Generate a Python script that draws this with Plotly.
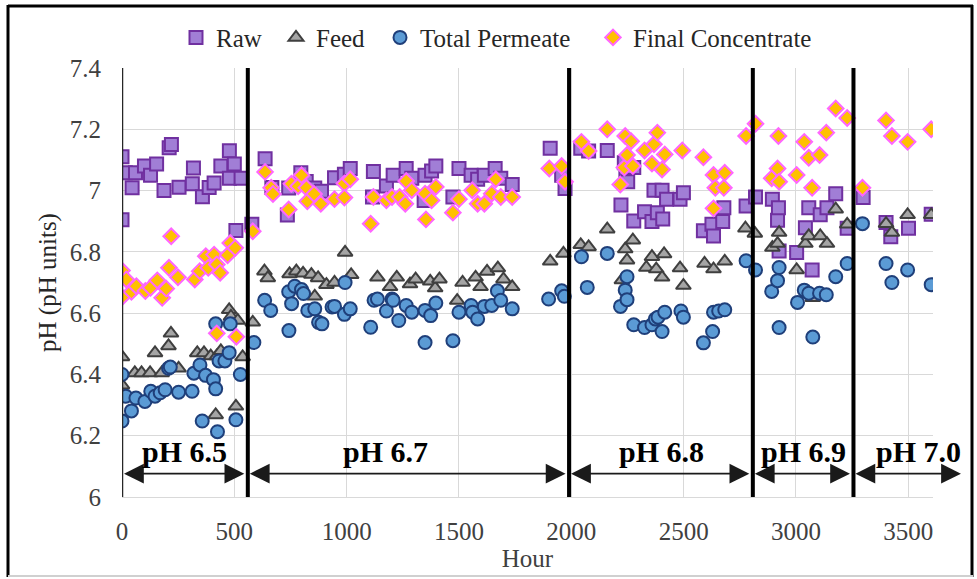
import plotly.graph_objects as go

# ---------------- data ----------------
raw_hours = [0, 0, 15, 45, 60, 100, 127, 154, 187, 210, 220, 254, 313, 318, 358, 388, 410, 440, 478, 478,
             500, 507, 530, 578, 637, 667, 736, 742, 796, 820, 858, 888, 946, 990, 1016, 1115, 1119, 1177,
             1207, 1265, 1290, 1345, 1349, 1378, 1397, 1473, 1500, 1554, 1583, 1613, 1661, 1686, 1737,
             1906, 1957, 1972, 2042, 2077, 2160, 2221, 2236, 2243, 2251, 2278, 2278, 2326, 2359, 2368,
             2383, 2404, 2407, 2424, 2484, 2499, 2588, 2626, 2633, 2674, 2679, 2778, 2820, 2895, 2918,
             2922, 2925, 3003, 3042, 3057, 3072, 3108, 3138, 3177, 3228, 3299, 3401, 3422, 3501, 3602]
raw_ph = [7.11, 6.905, 7.058, 7.009, 7.058, 7.08, 7.05, 7.087, 7.0, 7.14, 7.15, 7.011, 7.022, 7.074, 6.98,
          7.01, 7.025, 7.08, 7.13, 7.04, 7.087, 6.87, 7.04, 6.89, 7.104, 7.01, 6.92, 7.008, 7.058, 7.03,
          7.008, 6.998, 7.042, 7.053, 7.072, 6.979, 7.062, 7.015, 7.05, 7.072, 7.04, 6.968, 7.05, 7.064,
          7.08, 6.979, 7.072, 7.05, 7.037, 7.05, 7.072, 7.04, 7.02, 7.138, 7.05, 7.007, 7.138, 7.129,
          7.131, 6.953, 7.091, 7.042, 7.029, 7.075, 6.901, 6.931, 6.899, 7.001, 6.928, 7.001, 6.907,
          6.972, 6.972, 6.993, 6.869, 6.89, 6.852, 6.899, 6.944, 6.95, 6.979, 6.972, 6.903, 6.944, 6.803,
          6.798, 6.879, 6.944, 6.741, 6.921, 6.944, 6.99, 6.877, 6.977, 6.896, 6.849, 6.877, 6.923]

feed_hours = [0, 0, 57, 87, 125, 147, 177, 207, 218, 252, 335, 365, 395, 417, 422, 440, 477, 485, 507, 515,
              537, 582, 634, 649, 746, 776, 806, 843, 858, 873, 910, 946, 993, 1020, 1137, 1193, 1223, 1282,
              1307, 1372, 1394, 1413, 1492, 1516, 1574, 1596, 1625, 1673, 1698, 1737, 1906, 1965, 2042,
              2077, 2160, 2225, 2240, 2248, 2274, 2334, 2359, 2378, 2404, 2413, 2484, 2499, 2593, 2633,
              2683, 2775, 2817, 2895, 2918, 2925, 3003, 3042, 3057, 3075, 3108, 3138, 3177, 3228, 3401,
              3427, 3497, 3602]
feed_ph = [6.457, 6.365, 6.405, 6.405, 6.405, 6.47, 6.405, 6.493, 6.534, 6.42, 6.47, 6.47, 6.46, 6.268,
           6.46, 6.477, 6.611, 6.589, 6.296, 6.576, 6.457, 6.57, 6.737, 6.715, 6.728, 6.737, 6.73, 6.726,
           6.655, 6.715, 6.693, 6.70, 6.798, 6.725, 6.717, 6.686, 6.717, 6.695, 6.711, 6.704, 6.682,
           6.711, 6.641, 6.7, 6.717, 6.686, 6.736, 6.747, 6.711, 6.686, 6.769, 6.795, 6.823, 6.816,
           6.874, 6.708, 6.809, 6.773, 6.838, 6.749, 6.784, 6.744, 6.717, 6.793, 6.747, 6.69, 6.762,
           6.744, 6.769, 6.877, 6.86, 6.814, 6.827, 6.863, 6.741, 6.827, 6.852, 6.65, 6.852, 6.827,
           6.939, 6.89, 6.892, 6.863, 6.921, 6.921]

perm_hours = [0, 0, 17, 42, 62, 102, 128, 147, 170, 192, 207, 215, 252, 312, 320, 347, 357, 372, 407, 417,
              417, 425, 432, 458, 477, 482, 507, 527, 587, 635, 662, 742, 743, 755, 769, 799, 808, 827,
              858, 875, 890, 935, 946, 990, 993, 1016, 1107, 1122, 1137, 1177, 1202, 1207, 1232, 1265,
              1290, 1349, 1349, 1374, 1397, 1473, 1500, 1554, 1561, 1583, 1613, 1646, 1671, 1686, 1737,
              1899, 1957, 1969, 2045, 2071, 2160, 2219, 2240, 2248, 2248, 2278, 2326, 2359, 2374, 2386,
              2404, 2416, 2488, 2499, 2588, 2629, 2633, 2656, 2683, 2778, 2820, 2892, 2918, 2925, 2925,
              3007, 3037, 3057, 3075, 3105, 3135, 3177, 3228, 3296, 3401, 3427, 3497, 3602]
perm_ph = [6.4, 6.248, 6.329, 6.281, 6.323, 6.312, 6.345, 6.329, 6.34, 6.35, 6.42, 6.424, 6.342, 6.345,
           6.404, 6.431, 6.248, 6.397, 6.383, 6.353, 6.565, 6.213, 6.444, 6.444, 6.471, 6.565, 6.252,
           6.4, 6.504, 6.642, 6.609, 6.67, 6.543, 6.631, 6.688, 6.677, 6.664, 6.609, 6.614, 6.57, 6.565,
           6.62, 6.622, 6.596, 6.70, 6.614, 6.554, 6.642, 6.646, 6.607, 6.646, 6.642, 6.576, 6.625,
           6.603, 6.504, 6.609, 6.592, 6.633, 6.51, 6.603, 6.625, 6.603, 6.581, 6.622, 6.625, 6.673,
           6.642, 6.614, 6.646, 6.673, 6.655, 6.784, 6.684, 6.795, 6.622, 6.675, 6.719, 6.644, 6.562,
           6.553, 6.562, 6.581, 6.587, 6.54, 6.603, 6.607, 6.587, 6.503, 6.54, 6.603, 6.607, 6.611,
           6.771, 6.741, 6.671, 6.706, 6.749, 6.553, 6.635, 6.675, 6.665, 6.522, 6.665, 6.66, 6.719,
           6.762, 6.892, 6.762, 6.7, 6.741, 6.693]

conc_hours = [0, 0, 19, 42, 64, 104, 127, 157, 179, 197, 209, 219, 249, 324, 346, 373, 384, 410, 422, 422,
              437, 470, 482, 504, 509, 582, 637, 664, 672, 742, 754, 784, 799, 821, 825, 855, 885, 946,
              990, 990, 1016, 1107, 1119, 1177, 1202, 1236, 1261, 1265, 1290, 1349, 1353, 1378, 1397,
              1473, 1500, 1559, 1583, 1613, 1646, 1664, 1686, 1737, 1902, 1957, 1972, 2045, 2077, 2160,
              2218, 2236, 2240, 2248, 2266, 2274, 2326, 2359, 2368, 2383, 2404, 2416, 2494, 2588, 2633,
              2633, 2641, 2679, 2683, 2778, 2820, 2892, 2918, 2922, 2925, 3003, 3037, 3057, 3072, 3105,
              3135, 3177, 3228, 3296, 3401, 3427, 3497, 3602]
conc_ph = [6.739, 6.652, 6.71, 6.67, 6.688, 6.672, 6.683, 6.707, 6.65, 6.68, 6.748, 6.851, 6.717, 6.71,
           6.737, 6.786, 6.748, 6.791, 6.759, 6.534, 6.732, 6.789, 6.829, 6.813, 6.523, 6.867, 7.061,
           7.009, 6.989, 6.938, 7.022, 7.014, 7.05, 7.009, 6.965, 6.989, 6.957, 6.972, 7.023, 6.977,
           7.037, 6.892, 6.979, 6.968, 6.979, 6.979, 6.957, 7.031, 7.001, 6.99, 6.906, 6.968, 7.012,
           6.928, 6.972, 7.001, 6.957, 6.957, 6.99, 7.037, 6.979, 6.979, 7.072, 7.08, 7.029, 7.159,
           7.129, 7.2, 7.02, 7.075, 7.178, 7.116, 7.161, 7.08, 7.131, 7.088, 7.151, 7.189, 7.069, 7.118,
           7.131, 7.109, 7.051, 6.942, 7.009, 7.009, 7.058, 7.178, 7.218, 7.04, 7.072, 7.178, 7.029,
           7.051, 7.159, 7.107, 7.009, 7.116, 7.189, 7.268, 7.237, 7.009, 7.229, 7.178, 7.159, 7.2]

divider_hours = [0, 560, 1990, 2808, 3256]
phase_starts = [0, 560, 1990, 2808, 3256]
phase_ends = [560, 1990, 2808, 3256, 3750]
phase_labels = ["pH 6.5", "pH 6.7", "pH 6.8", "pH 6.9", "pH 7.0"]
phase_label_hours = [280, 1175, 2400, 3035, 3545]

x_tick_vals = [0, 500, 1000, 1500, 2000, 2500, 3000, 3500]
y_tick_vals = [6.0, 6.2, 6.4, 6.6, 6.8, 7.0, 7.2, 7.4]
y_tick_text = ["6", "6.2", "6.4", "6.6", "6.8", "7", "7.2", "7.4"]

# ---------------- style ----------------
FONT = "Times New Roman, Liberation Serif, serif"
W, H = 977, 579
ML, MR, MT, MB = 122, 44, 68, 82
PW, PH = W - ML - MR, H - MT - MB

# left edge (px) of each legend entry in the top row
legend_left_px = [176, 276, 380, 593]
legend_ids = ["legend", "legend2", "legend3", "legend4"]

series = [
    ("Raw", raw_hours, raw_ph, dict(symbol="square", size=13, color="#A17ED6",
                                    line=dict(color="#7030A0", width=2))),
    ("Feed", feed_hours, feed_ph, dict(symbol="triangle-up", size=13, color="#A5A5A5",
                                       line=dict(color="#3F3F3F", width=2))),
    ("Total Permeate", perm_hours, perm_ph, dict(symbol="circle", size=13, color="#5B9BD5",
                                                 line=dict(color="#1F3F7A", width=2))),
    ("Final Concentrate", conc_hours, conc_ph, dict(symbol="diamond", size=12, color="#FFC000",
                                                    line=dict(color="#FF66FF", width=2))),
]

fig = go.Figure()
for (name, xs, ys, mk), lid in zip(series, legend_ids):
    fig.add_trace(go.Scatter(x=xs, y=ys, mode="markers", name=name, marker=mk, legend=lid,
                             showlegend=True))

shapes = []
for i, h in enumerate(divider_hours):
    shapes.append(dict(type="line", xref="x", yref="y", x0=h, x1=h, y0=6.0, y1=7.4,
                       line=dict(color="#000000" if i else "#262626", width=4 if i else 2.5),
                       layer="above"))

# chart frame (pixel positions converted to paper fractions)
def px(xp):
    return (xp - ML) / PW

def py(yp):
    return 1 - (yp - MT) / PH

shapes += [
    dict(type="line", xref="paper", yref="paper", x0=px(8), x1=px(8), y0=py(5), y1=py(577),
         line=dict(color="#000", width=3)),
    dict(type="line", xref="paper", yref="paper", x0=px(8), x1=px(973), y0=py(6), y1=py(6),
         line=dict(color="#000", width=3)),
    dict(type="line", xref="paper", yref="paper", x0=px(972), x1=px(972), y0=py(5), y1=py(577),
         line=dict(color="#000", width=3)),
    dict(type="line", xref="paper", yref="paper", x0=px(8), x1=px(973), y0=py(576), y1=py(576),
         line=dict(color="#D0D0D0", width=2)),
]

annotations = []
ARROW_Y = 6.076
LABEL_Y = 6.150
for s, e, lab, lh in zip(phase_starts, phase_ends, phase_labels, phase_label_hours):
    annotations.append(dict(x=s, y=ARROW_Y, ax=e, ay=ARROW_Y, xref="x", yref="y", axref="x", ayref="y",
                            showarrow=True, arrowhead=2, startarrowhead=2, arrowside="end+start",
                            arrowsize=2.2, arrowwidth=1.8, arrowcolor="#1a1a1a",
                            standoff=2, startstandoff=2, text=""))
    annotations.append(dict(x=lh, y=LABEL_Y, xref="x", yref="y", text="<b>%s</b>" % lab,
                            showarrow=False, font=dict(family=FONT, size=30, color="#000")))

legend_common = dict(orientation="h", xref="container", yref="container", y=0.935,
                     xanchor="left", yanchor="middle",
                     font=dict(family=FONT, size=25, color="#262626"),
                     itemwidth=30, bgcolor="rgba(0,0,0,0)", borderwidth=0)
legend_layout = {lid: dict(legend_common, x=lp / W) for lid, lp in zip(legend_ids, legend_left_px)}

fig.update_layout(
    width=W, height=H,
    showlegend=True,
    margin=dict(l=ML, r=MR, t=MT, b=MB, autoexpand=False),
    paper_bgcolor="#FFFFFF", plot_bgcolor="#FFFFFF",
    font=dict(family=FONT, size=25, color="#262626"),
    shapes=shapes, annotations=annotations,
    xaxis=dict(range=[0, 3610], tickvals=x_tick_vals, showgrid=True, gridcolor="#D9D9D9", gridwidth=1,
               zeroline=False, showline=True, linecolor="#D9D9D9", linewidth=1, ticks="",
               ticklabelstandoff=12, tickfont=dict(family=FONT, size=25, color="#404040"),
               title=dict(text="Hour", font=dict(family=FONT, size=25, color="#404040"), standoff=4)),
    yaxis=dict(range=[6.0, 7.4], tickvals=y_tick_vals, ticktext=y_tick_text, showgrid=True,
               gridcolor="#D9D9D9", gridwidth=1, zeroline=False, showline=False, ticks="",
               ticklabelstandoff=20, tickfont=dict(family=FONT, size=25, color="#404040"),
               title=dict(text="pH (pH units)", font=dict(family=FONT, size=25, color="#262626"), standoff=6)),
    **legend_layout,
)

fig.write_html("out.html")
